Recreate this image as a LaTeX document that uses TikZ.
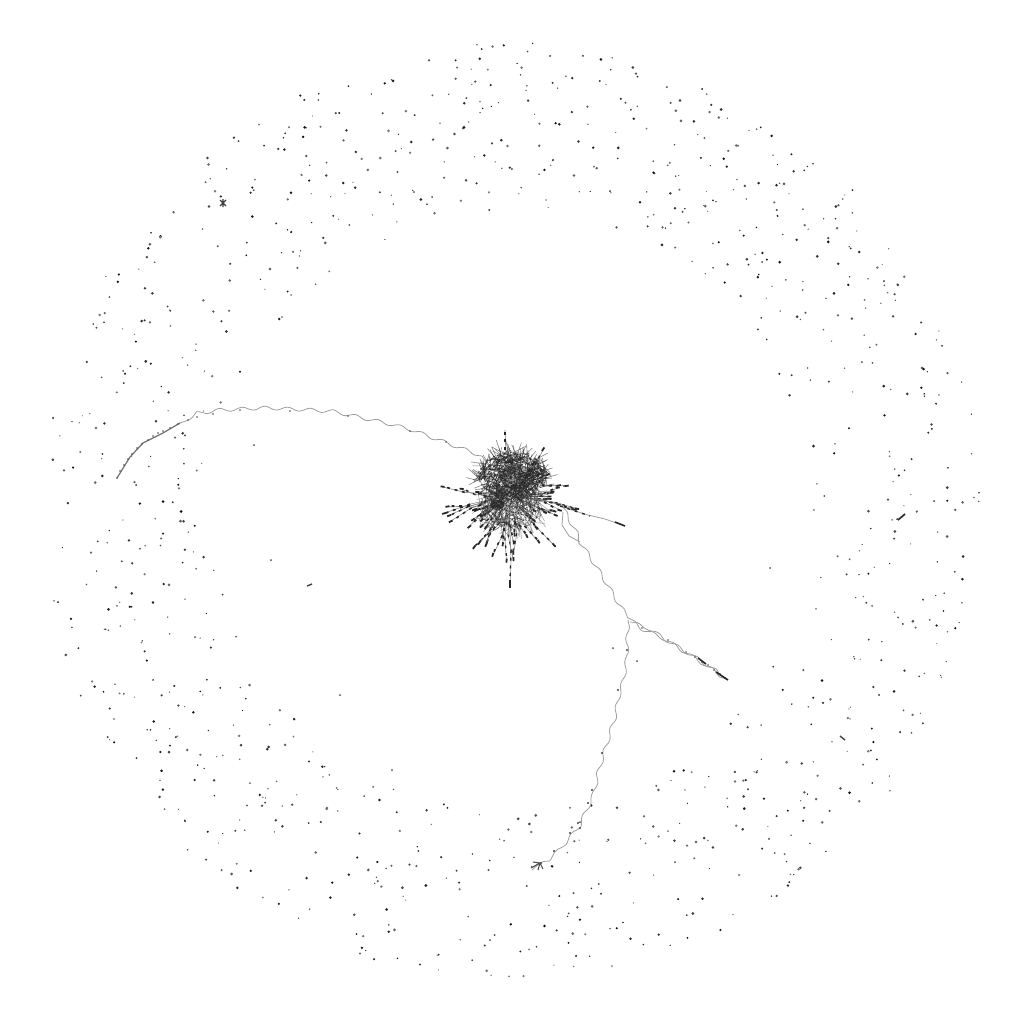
\documentclass[tikz,border=0pt]{standalone}
\usetikzlibrary{decorations.pathmorphing}
\tikzset{
  chainline/.style={draw=black!38, line width=0.22pt,
    decorate, decoration={snake, segment length=6.5pt, amplitude=0.5pt}},
  plainchain/.style={draw=black!38, line width=0.22pt},
  hair/.style={draw=black!85, line width=0.17pt, opacity=0.55},
  spoke/.style={draw=black!45, line width=0.18pt},
  spokedots/.style={draw=black!85, line width=0.38pt, dash pattern=on 0.8pt off 1.4pt},
  leaf/.style={draw=black!85, line width=0.5pt},
}
\begin{document}
\begin{tikzpicture}[x=0.01cm,y=-0.01cm]
\useasboundingbox (0,0) rectangle (1024,1024);
\fill[white] (0,0) rectangle (1024,1024);
\pgfmathsetseed{20240}
% ---------- outer ring of isolated nodes ----------
\foreach \i in {1,...,1000}{
  \pgfmathsetmacro\ang{360*rnd}
  \pgfmathsetmacro\rad{100*sqrt(9+13.09*rnd)}
  \pgfmathsetmacro\sz{0.6+0.9*rnd}
  \pgfmathsetmacro\gr{50+45*rnd}
  \fill[black!\gr] ({512+\rad*cos(\ang)},{512+\rad*sin(\ang)}) circle[radius=\sz];
}
% ---------- stray interior nodes ----------
\foreach \p in {(432,197),(762,262),(770,568),(254,445),(340,695),(392,770),(580,822),(637,661),(613,648),(675,862),(490,940),(271,560)}{
  \fill[black!70] \p circle[radius=1];
}
\draw[black!75, line width=0.4pt] (307,586) -- (312,584);
\draw[black!75, line width=0.35pt] (220,200) -- (226,206) (220,206) -- (226,200) (223,199) -- (223,207);
\draw[black!80, line width=0.5pt] (898,520) -- (905,514);
\draw[black!75, line width=0.4pt] (840,736) -- (845,740);
% ---------- chains ----------
% left long chain
\draw[chainline] (482,456) -- (447,443) -- (420,433) -- (390,425) -- (363,419) -- (340,414) -- (310,412) -- (267,410) -- (227,412) -- (200,416) -- (180,423);
\draw[plainchain, black!55, line width=0.35pt] (180,423) -- (163,433) -- (143,443) -- (130,457) -- (117,478);
\foreach \p in {(117,478),(120,471),(124,465),(128,459),(132,454),(137,448),(142,444),(148,440),(153,436),(158,433),(163,431),(170,428),(178,424),(188,420),(197,417),(213,414),(240,410),(290,411),(348,416),(410,431),(446,442)}{
  \fill[black!70] \p circle[radius=0.9];
}
% chain from cluster to the south-east
\draw[chainline] (562,506) -- (575,530) -- (580,542) -- (597,568) -- (612,593) -- (628,618);
\draw[plainchain] (563,512) -- (562,525) -- (569,536) -- (580,542);
\draw[chainline] (628,618) -- (637,625) -- (660,635) -- (687,652) -- (707,665) -- (728,680);
\draw[chainline] (630,622) -- (645,627) -- (665,640) -- (690,655) -- (710,668) -- (726,679);
\foreach \p in {(642,628),(668,640),(686,652),(695,657),(702,662),(708,665),(714,670),(720,674),(725,678)}{
  \fill[black!70] \p circle[radius=0.9];
}
\draw[leaf, line width=0.45pt] (698,658) -- (706,664) (716,672) -- (728,680);
% right short chain out of the cluster
\draw[plainchain] (560,506) -- (572,510) -- (588,515) -- (605,519) -- (625,526);
\draw[spokedots] (560,506) -- (590,516);
\draw[leaf, line width=0.45pt] (615,522) -- (625,526);
% long chain to the south
\draw[chainline] (628,620) -- (627,650) -- (622,677) -- (618,690) -- (613,717) -- (609,730) -- (602,753) -- (598,767) -- (593,790) -- (587,803) -- (578,823) -- (570,833) -- (555,850) -- (540,863) -- (532,870);
\foreach \p in {(627,650),(618,690),(602,753),(592,790),(588,803),(578,823),(580,828),(570,833),(554,851),(541,863)}{
  \fill[black!75] \p circle[radius=1.1];
}
\draw[black!70, line width=0.3pt] (540,863) -- (531,868) (540,863) -- (533,862) (540,863) -- (538,870) (540,863) -- (543,869);
% ---------- central hairball ----------
% radial spokes (chains of small nodes), slightly bent
\foreach \i in {1,...,55}{
  \pgfmathsetmacro\a{-55+245*rnd}
  \pgfmathsetmacro\b{\a+14*rnd-7}
  \pgfmathsetmacro\L{30+42*rnd}
  \pgfmathsetmacro\s{10+12*rnd}
  \pgfmathsetmacro\m{\s+0.5*(\L-\s)}
  \pgfmathsetmacro\lw{0.3+0.25*rnd}
  \draw[spoke] ({510+\s*cos(\a)},{495+\s*sin(\a)}) -- ({510+\m*cos(\a)},{495+\m*sin(\a)}) -- ({510+\L*cos(\b)},{495+\L*sin(\b)});
  \draw[spokedots, line width=\lw pt] ({510+\m*cos(\a)},{495+\m*sin(\a)}) -- ({510+(\L-4)*cos(\b)},{495+(\L-4)*sin(\b)});
  \draw[leaf] ({510+(\L-4)*cos(\b)},{495+(\L-4)*sin(\b)}) -- ({510+\L*cos(\b)},{495+\L*sin(\b)});
}
% upper blob
\foreach \i in {1,...,700}{
  \pgfmathsetmacro\aa{360*rnd}
  \pgfmathsetmacro\rr{sqrt(rnd)}
  \pgfmathsetmacro\bb{360*rnd}
  \pgfmathsetmacro\ll{3+13*rnd}
  \pgfmathsetmacro\xa{513+34*\rr*cos(\aa)}
  \pgfmathsetmacro\ya{476+24*\rr*sin(\aa)}
  \draw[hair] (\xa,\ya) -- ({\xa+\ll*cos(\bb)},{\ya+\ll*sin(\bb)});
  \fill[black!85] (\xa,\ya) circle[radius=0.55];
}
% lower part
\foreach \i in {1,...,450}{
  \pgfmathsetmacro\aa{360*rnd}
  \pgfmathsetmacro\rr{sqrt(rnd)}
  \pgfmathsetmacro\bb{360*rnd}
  \pgfmathsetmacro\ll{3+13*rnd}
  \pgfmathsetmacro\xa{510+30*\rr*cos(\aa)}
  \pgfmathsetmacro\ya{508+22*\rr*sin(\aa)}
  \draw[hair, opacity=0.4] (\xa,\ya) -- ({\xa+\ll*cos(\bb)},{\ya+\ll*sin(\bb)});
  \fill[black!75] (\xa,\ya) circle[radius=0.5];
}
\fill[black!85, opacity=0.4] (517,477) ellipse[x radius=18, y radius=12];
\fill[black!90, opacity=0.7] (497,505) ellipse[x radius=7, y radius=5];
% named spikes
\draw[spoke] (506,455) -- (505,430);
\draw[spokedots] (505,450) -- (505,432);
\draw[spoke] (510,530) -- (511,560) -- (510,588);
\draw[spokedots] (511,550) -- (510,580);
\draw[leaf] (510,580) -- (510,588);
\end{tikzpicture}
\end{document}
